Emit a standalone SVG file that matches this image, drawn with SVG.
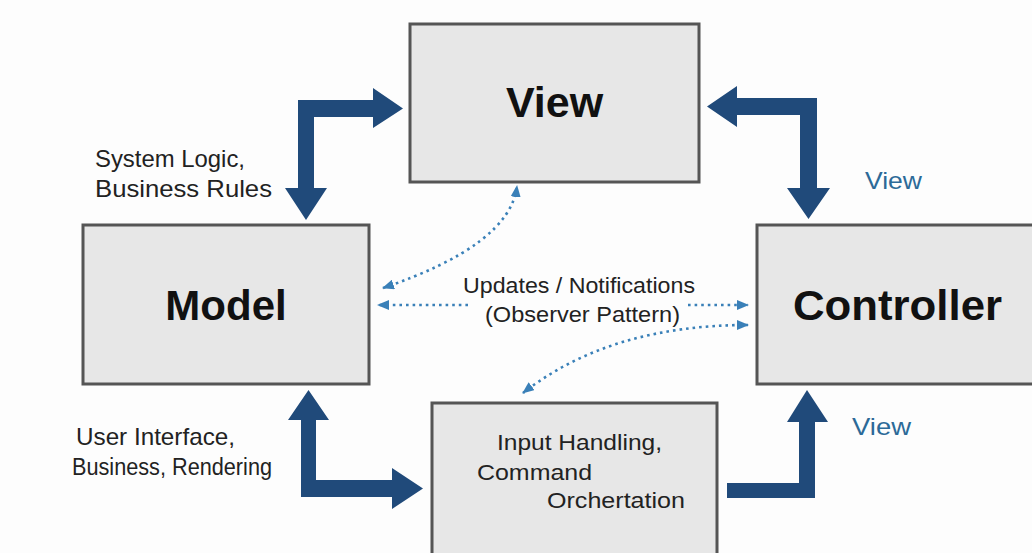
<svg xmlns="http://www.w3.org/2000/svg" width="1032" height="553" viewBox="0 0 1032 553">
  <style>
    .box { fill: #e7e7e7; stroke: #555555; stroke-width: 3; }
    .title { font-family: "Liberation Sans", Arial, sans-serif; font-weight: bold; fill: #111111; }
    .label { font-family: "Liberation Sans", Arial, sans-serif; font-size: 22px; fill: #222222; }
    .side { font-size: 24px; }
    .blue { font-family: "Liberation Sans", Arial, sans-serif; font-size: 24px; fill: #2c6a98; }
    .thick { fill: #204a7a; }
    .dotted { fill: none; stroke: #3a80b8; stroke-width: 2.6; stroke-dasharray: 2.6 4; }
  </style>
  <defs>
    <marker id="tip" viewBox="0 0 12 10" refX="11" refY="5" markerWidth="12" markerHeight="10" markerUnits="userSpaceOnUse" orient="auto-start-reverse">
      <path d="M0,0 L12,5 L0,10 Z" fill="#3a80b8" stroke="none"/>
    </marker>
  </defs>

  <rect width="1032" height="553" fill="#fdfdfd"/>

  <!-- boxes -->
  <g id="view">
    <rect class="box" x="410" y="24" width="289" height="158"/>
    <text class="title" x="554.5" y="117" font-size="43" text-anchor="middle">View</text>
  </g>
  <g id="model">
    <rect class="box" x="83" y="225" width="286" height="159"/>
    <text class="title" x="226" y="320" font-size="42" text-anchor="middle">Model</text>
  </g>
  <g id="controller">
    <rect class="box" x="757" y="225" width="290" height="159"/>
    <text class="title" x="793" y="320" font-size="43" textLength="209" lengthAdjust="spacingAndGlyphs">Controller</text>
  </g>
  <g id="input">
    <rect class="box" x="432" y="403" width="285" height="170"/>
    <text class="label" x="497" y="450" textLength="165" lengthAdjust="spacingAndGlyphs">Input Handling,</text>
    <text class="label" x="477" y="480" textLength="115" lengthAdjust="spacingAndGlyphs">Command</text>
    <text class="label" x="547" y="508" textLength="138" lengthAdjust="spacingAndGlyphs">Orchertation</text>
  </g>

  <!-- connectors -->
  <g id="connectors">
    <polygon class="thick" points="298,100 373,100 373,88 403,108.5 373,128 373,117 314,117 314,188 327,188 306,220 285,188 298,188"/>
    <polygon class="thick" points="817,98 737,98 737,86 707,106.5 737,127 737,115 800,115 800,188 787,188 808.5,219 830,188 817,188"/>
    <polygon class="thick" points="301,497 301,420 288,420 308.5,390 329,420 316,420 316,480 392,480 392,468 423,488.5 392,509 392,497"/>
    <polygon class="thick" points="727,483 799,483 799,422 787,422 807,390 828,422 815,422 815,498 727,498"/>

    <path class="dotted" d="M383,288 Q510,245 517,186" marker-start="url(#tip)" marker-end="url(#tip)"/>
    <path class="dotted" d="M468,305 L378,305" marker-end="url(#tip)"/>
    <path class="dotted" d="M688,305 L748,305" marker-end="url(#tip)"/>
    <path class="dotted" d="M748,325 Q610,325 523,393" marker-start="url(#tip)" marker-end="url(#tip)"/>
  </g>

  <!-- free labels -->
  <g id="labels">
    <text class="label side" x="95" y="167" textLength="150" lengthAdjust="spacingAndGlyphs">System Logic,</text>
    <text class="label side" x="95" y="197" textLength="177" lengthAdjust="spacingAndGlyphs">Business Rules</text>
    <text class="label side" x="76" y="445" textLength="159" lengthAdjust="spacingAndGlyphs">User Interface,</text>
    <text class="label" x="72" y="475" textLength="200" lengthAdjust="spacingAndGlyphs" style="font-size:23px">Business, Rendering</text>
    <text class="label" x="463" y="293" textLength="232" lengthAdjust="spacingAndGlyphs">Updates / Notifications</text>
    <text class="label" x="485" y="322" textLength="195" lengthAdjust="spacingAndGlyphs">(Observer Pattern)</text>
    <text class="blue" x="865" y="189" textLength="57" lengthAdjust="spacingAndGlyphs">View</text>
    <text class="blue" x="852" y="435" textLength="59" lengthAdjust="spacingAndGlyphs">View</text>
  </g>
</svg>
